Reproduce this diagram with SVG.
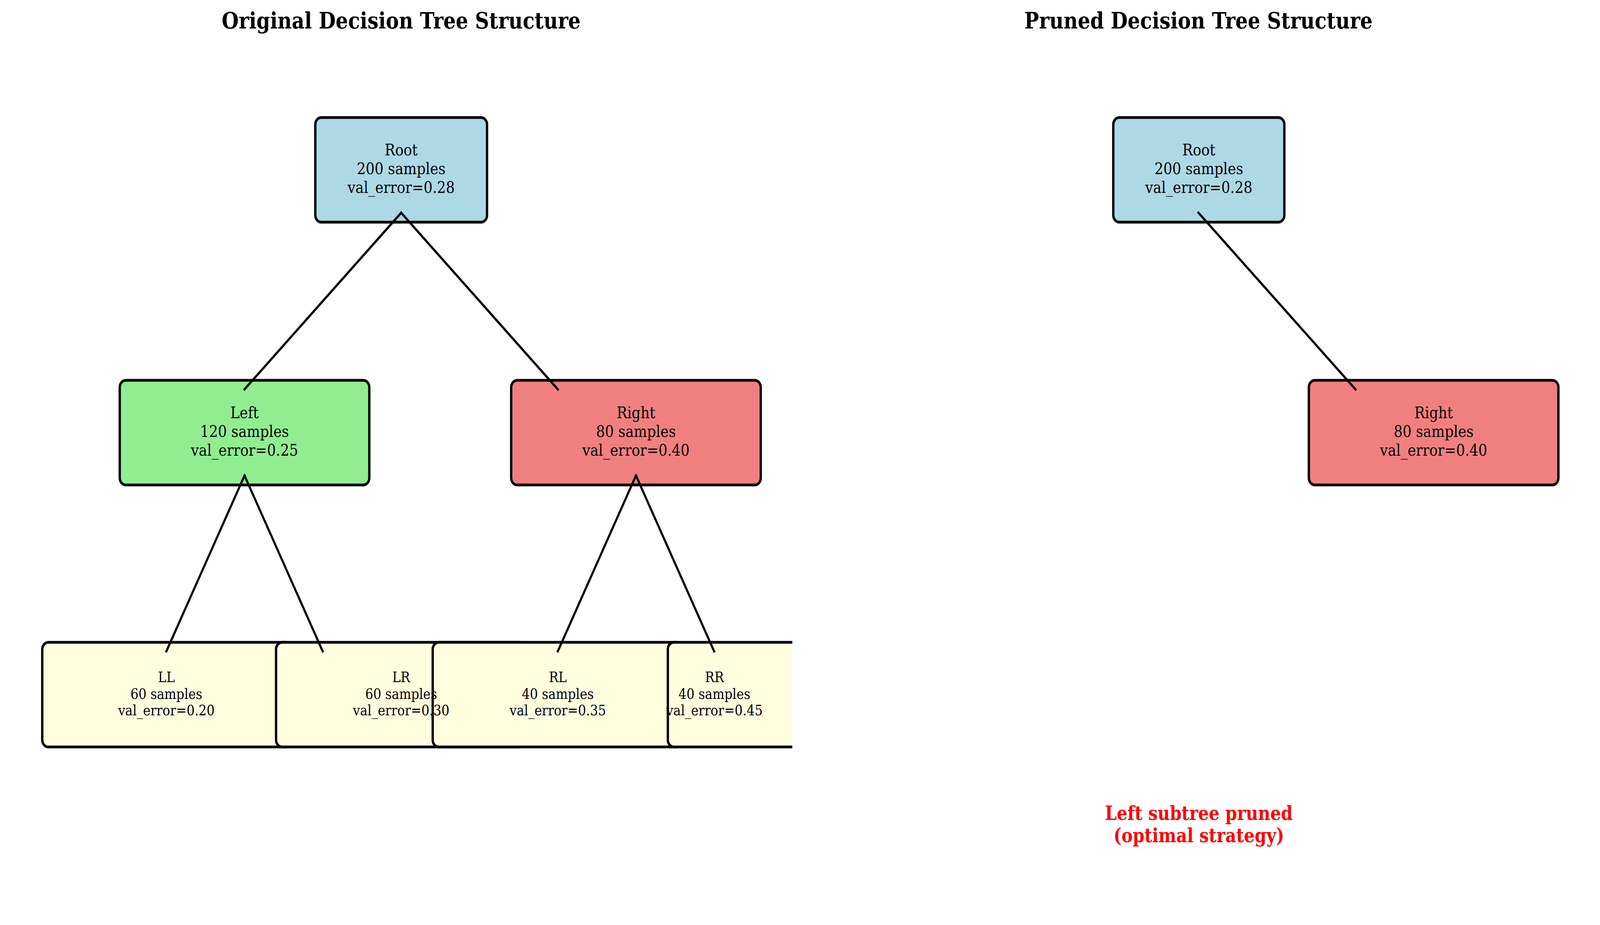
<svg xmlns="http://www.w3.org/2000/svg" width="4770" height="2369" viewBox="0 0 4770 2369" preserveAspectRatio="none">
<defs>
<style>
svg:root{width:100vw;height:100vh;}
.box{stroke:#000;stroke-width:7;}
.root{fill:#ADD8E6;}
.left{fill:#90EE90;}
.right{fill:#F08080;}
.leaf{fill:#FFFFE0;}
.edge{stroke:#000;stroke-width:6.2;stroke-linecap:square;fill:none;}
.t{font-family:"DejaVu Serif","Liberation Serif",serif;font-size:41.67px;text-anchor:middle;fill:#000;}
.ts{font-family:"DejaVu Serif","Liberation Serif",serif;font-size:37.5px;text-anchor:middle;fill:#000;}
.title{font-family:"DejaVu Serif","Liberation Serif",serif;font-size:58.3px;font-weight:bold;text-anchor:middle;fill:#000;}
.note{font-family:"DejaVu Serif","Liberation Serif",serif;font-size:50px;font-weight:bold;text-anchor:middle;fill:#FF0000;}
</style>
<clipPath id="clipOrig"><rect x="0" y="0" width="2362" height="2369"/></clipPath>
</defs>
<rect x="0" y="0" width="4770" height="2369" fill="#fff"/>

<text class="title" x="1196" y="73">Original Decision Tree Structure</text>
<text class="title" x="3573" y="73">Pruned Decision Tree Structure</text>

<g id="original-tree" clip-path="url(#clipOrig)">
  <g id="node-orig-root"><rect class="box root" x="940" y="301" width="512" height="268" rx="18"/></g>
  <g id="node-orig-left"><rect class="box left" x="357" y="974" width="744" height="268" rx="18"/></g>
  <g id="node-orig-right"><rect class="box right" x="1524" y="974" width="744" height="268" rx="18"/></g>
  <g id="node-orig-ll"><rect class="box leaf" x="126" y="1645" width="744" height="268" rx="18"/></g>
  <g id="node-orig-lr"><rect class="box leaf" x="823" y="1645" width="744" height="268" rx="18"/></g>
  <g id="node-orig-rl"><rect class="box leaf" x="1290" y="1645" width="744" height="268" rx="18"/></g>
  <g id="node-orig-rr"><rect class="box leaf" x="1991" y="1645" width="744" height="268" rx="18"/></g>
  <g id="connectors-orig">
    <line class="edge" x1="1196" y1="545" x2="729" y2="997"/>
    <line class="edge" x1="1196" y1="545" x2="1663" y2="997"/>
    <line class="edge" x1="729" y1="1218" x2="496" y2="1668"/>
    <line class="edge" x1="729" y1="1218" x2="962" y2="1668"/>
    <line class="edge" x1="1896" y1="1218" x2="1663" y2="1668"/>
    <line class="edge" x1="1896" y1="1218" x2="2129" y2="1668"/>
  </g>
</g>

<g id="labels-orig">
  <g id="label-orig-root"><text class="t" x="1196" y="398">Root</text><text class="t" x="1196" y="446">200 samples</text><text class="t" x="1196" y="494">val_error=0.28</text></g>
  <g id="label-orig-left"><text class="t" x="729" y="1071">Left</text><text class="t" x="729" y="1119">120 samples</text><text class="t" x="729" y="1167">val_error=0.25</text></g>
  <g id="label-orig-right"><text class="t" x="1896" y="1071">Right</text><text class="t" x="1896" y="1119">80 samples</text><text class="t" x="1896" y="1167">val_error=0.40</text></g>
  <g id="label-orig-ll"><text class="ts" x="496" y="1747">LL</text><text class="ts" x="496" y="1790">60 samples</text><text class="ts" x="496" y="1832">val_error=0.20</text></g>
  <g id="label-orig-lr"><text class="ts" x="1196" y="1747">LR</text><text class="ts" x="1196" y="1790">60 samples</text><text class="ts" x="1196" y="1832">val_error=0.30</text></g>
  <g id="label-orig-rl"><text class="ts" x="1663" y="1747">RL</text><text class="ts" x="1663" y="1790">40 samples</text><text class="ts" x="1663" y="1832">val_error=0.35</text></g>
  <g id="label-orig-rr"><text class="ts" x="2130" y="1747">RR</text><text class="ts" x="2130" y="1790">40 samples</text><text class="ts" x="2130" y="1832">val_error=0.45</text></g>
</g>

<g id="pruned-tree">
  <g id="node-pruned-root"><rect class="box root" x="3319" y="301" width="510" height="268" rx="18"/></g>
  <g id="node-pruned-right"><rect class="box right" x="3902" y="974" width="744" height="268" rx="18"/></g>
  <g id="connectors-pruned">
    <line class="edge" x1="3573" y1="545" x2="4041" y2="997"/>
  </g>
  <g id="label-pruned-root"><text class="t" x="3574" y="398">Root</text><text class="t" x="3574" y="446">200 samples</text><text class="t" x="3574" y="494">val_error=0.28</text></g>
  <g id="label-pruned-right"><text class="t" x="4274" y="1071">Right</text><text class="t" x="4274" y="1119">80 samples</text><text class="t" x="4274" y="1167">val_error=0.40</text></g>
</g>

<g id="note">
  <text class="note" x="3574" y="2100">Left subtree pruned</text>
  <text class="note" x="3574" y="2157">(optimal strategy)</text>
</g>
</svg>
